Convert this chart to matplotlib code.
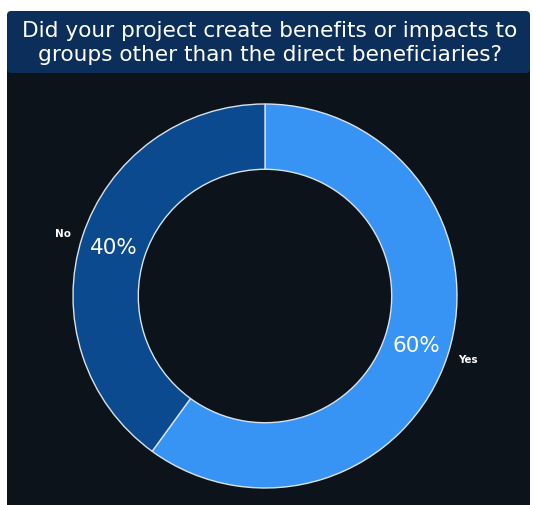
import matplotlib
matplotlib.use('Agg')
import matplotlib.pyplot as plt
from matplotlib.patches import FancyBboxPatch, Rectangle

# Survey answers, clockwise from 12 o'clock
LABELS = ['Yes', 'No']
SHARES = [60, 40]
COLORS = ['#3894f4', '#0b4a8e']

TITLE = ('Did your project create benefits or impacts to\n'
         'groups other than the direct beneficiaries?')

W, H = 533, 506
fig = plt.figure(figsize=(W / 100, H / 100), dpi=100, facecolor='white')

# dark panel behind the chart
fig.patches.append(Rectangle((7 / W, 0), (530 - 7) / W, (H - 70) / H,
                             transform=fig.transFigure, facecolor='#0c131b',
                             edgecolor='none', zorder=-2))
# rounded title banner
fig.patches.append(FancyBboxPatch((7 / W, (H - 74) / H), (530 - 7) / W, 62 / H,
                                  boxstyle='round,pad=0,rounding_size=0.008',
                                  transform=fig.transFigure, facecolor='#0b2e5a',
                                  edgecolor='none', zorder=-1))
fig.text(270 / W, (H - 43) / H, TITLE, ha='center', va='center', color='white',
         fontsize=15.6, linespacing=1.2, zorder=2)

cx, cy, r = 265, 297, 192
ax = fig.add_axes([(cx - r) / W, (H - cy - r) / H, 2 * r / W, 2 * r / H])
ax.set_facecolor('none')
ax.set_zorder(1)

wedges, texts, autotexts = ax.pie(
    SHARES, labels=LABELS, colors=COLORS, startangle=90, counterclock=False,
    autopct='%d%%', pctdistance=0.83, labeldistance=1.06, radius=1,
    wedgeprops=dict(width=0.34, edgecolor='#d8e2ec', linewidth=1.0),
    textprops=dict(color='white'))

for t in texts:
    t.set_fontsize(7.5)
    t.set_fontweight('bold')
for t in autotexts:
    t.set_fontsize(15.5)

ax.set_xlim(-1, 1)
ax.set_ylim(-1, 1)
ax.set_aspect('equal')

fig.savefig('out.png', dpi=100, facecolor='white')
